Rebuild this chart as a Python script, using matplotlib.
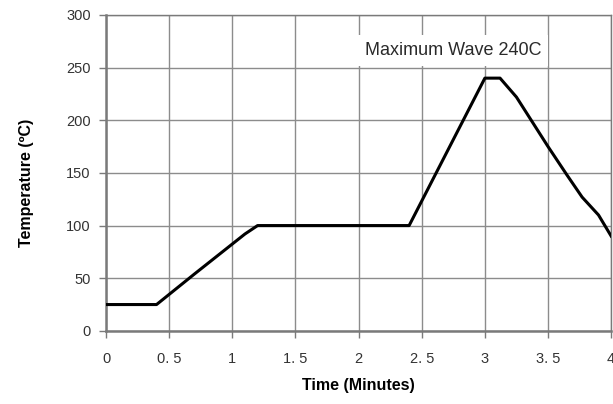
import matplotlib
matplotlib.use('Agg')
import matplotlib.pyplot as plt

# Profil suhu
time_min = [0, 0.4, 0.7, 1.1, 1.2, 2.4, 3.0, 3.12, 3.25, 3.5, 3.65, 3.77, 3.9, 4.0]
temp_c = [25, 25, 54, 92, 100, 100, 240, 240, 222, 175, 148, 127, 110, 90]

x_ticks = [0, 0.5, 1, 1.5, 2, 2.5, 3, 3.5, 4]
x_labels = ['0', '0. 5', '1', '1. 5', '2', '2. 5', '3', '3. 5', '4']
y_ticks = [0, 50, 100, 150, 200, 250, 300]

plt.rcParams['font.family'] = ['Liberation Sans', 'DejaVu Sans']

fig = plt.figure(figsize=(6.13, 4.04), dpi=100)
ax = fig.add_axes([0.173, 0.181, 0.824, 0.782])

ax.plot(time_min, temp_c, color='black', linewidth=2.2, zorder=3)

ax.set_xlim(0, 4)
ax.set_ylim(0, 300)
ax.set_xticks(x_ticks)
ax.set_xticklabels(x_labels)
ax.set_yticks(y_ticks)
ax.grid(True, color='#8c8c8c', linewidth=1.0)
ax.set_axisbelow(True)

for side in ['top', 'right']:
    ax.spines[side].set_color('#7a7a7a')
    ax.spines[side].set_linewidth(1.0)
for side in ['left', 'bottom']:
    ax.spines[side].set_color('#7a7a7a')
    ax.spines[side].set_linewidth(1.8)

ax.tick_params(direction='out', length=5, width=1, color='#7a7a7a',
               labelsize=10.5, labelcolor='#333333', pad=6)
ax.tick_params(axis='x', pad=10)

ax.set_xlabel('Time (Minutes)', fontsize=11.5, fontweight='bold', labelpad=9)
ax.set_ylabel('Temperature (ºC)', fontsize=11.5, fontweight='bold')
ax.yaxis.set_label_coords(-0.143, 0.47)

# Label puncak gelombang
ax.text(2.75, 266, 'Maximum Wave 240C', fontsize=13, color='#2a2a2a',
        ha='center', va='center', zorder=4,
        bbox=dict(facecolor='white', edgecolor='none', pad=5))

fig.savefig('out.png', dpi=100)
